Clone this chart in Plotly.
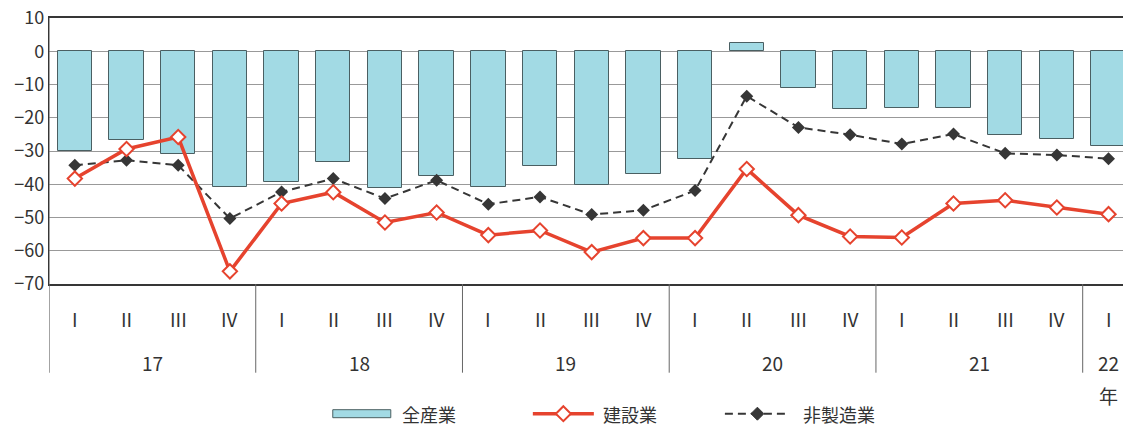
import plotly.graph_objects as go

# ---- data ----
quarters = ["I", "II", "III", "IV"] * 5 + ["I"]
years = ["17", "18", "19", "20", "21", "22"]
year_sizes = [4, 4, 4, 4, 4, 1]
all_industries = [-30.1, -26.8, -30.9, -40.9,
                  -39.3, -33.3, -41.1, -37.4,
                  -40.8, -34.4, -40.3, -36.9,
                  -32.5, 2.5, -11.2, -17.5,
                  -17.0, -17.1, -25.3, -26.5,
                  -28.6]
construction = [-38.3, -29.4, -25.8, -66.2,
                -45.8, -42.4, -51.5, -48.5,
                -55.3, -53.9, -60.4, -56.2,
                -56.2, -35.4, -49.3, -55.7,
                -56.0, -45.8, -44.8, -47.0,
                -49.0]
non_manufacturing = [-34.3, -32.8, -34.3, -50.3,
                     -42.3, -38.3, -44.3, -38.8,
                     -46.0, -43.8, -49.1, -47.8,
                     -41.9, -13.5, -22.9, -25.1,
                     -27.9, -24.9, -30.7, -31.2,
                     -32.3]
y_ticks = [10, 0, -10, -20, -30, -40, -50, -60, -70]
legend_names = ["全産業", "建設業", "非製造業"]
year_suffix = "年"

idx = list(range(len(quarters)))

# ---- geometry ----
W_FIG, H_FIG = 1123, 429
L, T = 49.3, 18.3
BOTTOM = 284.3
PW = W_FIG - L
PH = BOTTOM - T
x_right = -0.5 + PW / 51.67

def px(p):
    return (p - L) / PW

def py(p):
    return (BOTTOM - p) / PH

FONT = "Noto Sans CJK JP"
TXT = "#333333"
BAR_FILL = "#a2dae4"
BAR_LINE = "#4a5f62"
RED = "#e6432e"
DARK = "#363636"

fig = go.Figure()
fig.add_trace(go.Bar(x=idx, y=all_industries, width=0.665, name=legend_names[0],
                     marker=dict(color=BAR_FILL, line=dict(color=BAR_LINE, width=1))))
fig.add_trace(go.Scatter(x=idx, y=non_manufacturing, mode="lines+markers", name=legend_names[2],
                         line=dict(color=DARK, width=2, dash="8px,5px"),
                         marker=dict(symbol="diamond", size=10, color=DARK)))
fig.add_trace(go.Scatter(x=idx, y=construction, mode="lines+markers", name=legend_names[1],
                         line=dict(color=RED, width=3.5),
                         marker=dict(symbol="diamond", size=11, color="white",
                                     line=dict(color=RED, width=2))))

annotations = []
shapes = []
# quarter labels
for i, q in zip(idx, quarters):
    annotations.append(dict(x=i, y=py(319), xref="x", yref="paper", text=q, showarrow=False,
                            font=dict(family=FONT, size=19, color=TXT), yanchor="middle"))
# year labels and dividers
start = 0
for yr, n in zip(years, year_sizes):
    center = start + (n - 1) / 2
    annotations.append(dict(x=center, y=py(363), xref="x", yref="paper", text=yr, showarrow=False,
                            font=dict(family=FONT, size=19, color=TXT), yanchor="middle"))
    shapes.append(dict(type="line", xref="x", yref="paper", x0=start - 0.5, x1=start - 0.5,
                       y0=py(373), y1=0 if start > 0 else 1,
                       line=dict(color="#666666", width=1.2 if start == 0 else 1)))
    start += n
annotations.append(dict(x=idx[-1], y=py(396), xref="x", yref="paper", text=year_suffix,
                        showarrow=False, font=dict(family=FONT, size=19, color=TXT), yanchor="middle"))

# manual legend
ly = py(414)
shapes.append(dict(type="rect", xref="paper", yref="paper", x0=px(333), x1=px(391),
                   y0=py(410), y1=py(418), fillcolor=BAR_FILL, line=dict(color=BAR_LINE, width=1)))
shapes.append(dict(type="line", xref="paper", yref="paper", x0=px(533), x1=px(594), y0=ly, y1=ly,
                   line=dict(color=RED, width=3.5)))
shapes.append(dict(type="line", xref="paper", yref="paper", x0=px(725), x1=px(790), y0=ly, y1=ly,
                   line=dict(color=DARK, width=2, dash="8px,5px")))

def diamond(cx, cy, r):
    return (f"M {px(cx)},{py(cy - r)} L {px(cx + r)},{py(cy)} L {px(cx)},{py(cy + r)} "
            f"L {px(cx - r)},{py(cy)} Z")

shapes.append(dict(type="path", xref="paper", yref="paper", path=diamond(563.5, 414, 7.5),
                   fillcolor="white", line=dict(color=RED, width=2)))
shapes.append(dict(type="path", xref="paper", yref="paper", path=diamond(757.5, 414, 6.5),
                   fillcolor=DARK, line=dict(color=DARK, width=1)))
for xpos, name in zip([400, 601, 801], legend_names):
    annotations.append(dict(x=px(xpos), y=ly, xref="paper", yref="paper", text=name, showarrow=False,
                            xanchor="left", yanchor="middle",
                            font=dict(family=FONT, size=18, color=TXT)))

fig.update_layout(
    width=W_FIG, height=H_FIG,
    margin=dict(l=L, r=0, t=T, b=H_FIG - BOTTOM, autoexpand=False),
    plot_bgcolor="white", paper_bgcolor="white",
    showlegend=False,
    bargap=0,
    font=dict(family=FONT, color=TXT),
    annotations=annotations,
    shapes=shapes,
    xaxis=dict(range=[-0.5, x_right], showticklabels=False, ticks="", showgrid=False,
               zeroline=False, showline=True, linecolor=DARK, linewidth=1.5, mirror=True),
    yaxis=dict(range=[-70, 10], tickvals=y_ticks, ticks="", showgrid=True,
               gridcolor="#999999", gridwidth=1, zeroline=False,
               showline=True, linecolor=DARK, linewidth=1.2,
               tickfont=dict(family=FONT, size=18, color=TXT)),
)

fig.write_html("out.html")
